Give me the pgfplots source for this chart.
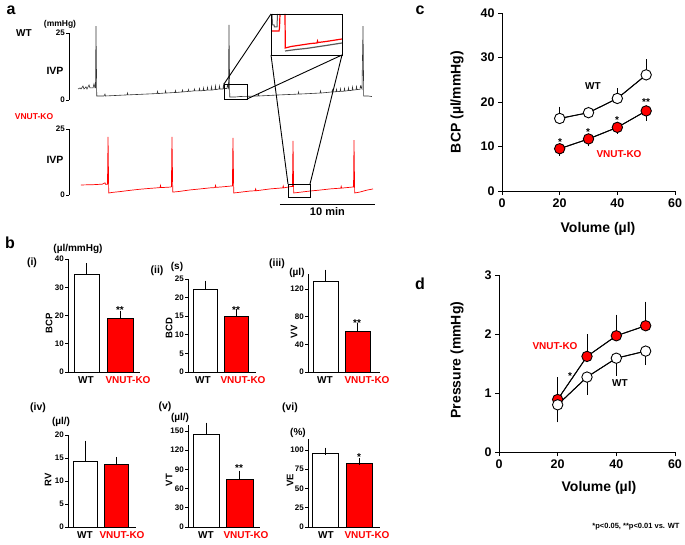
\documentclass[border=0pt]{standalone}
\usepackage{pgfplots}
\pgfplotsset{compat=1.18}
\usepackage{fontspec}
\setmainfont{Liberation Sans}
\newcommand{\myfs}[1]{\fontsize{#1}{#1}\selectfont\bfseries}
\pgfplotsset{
  base/.style={scale only axis, anchor=south west, clip=false,
    /pgf/number format/assume math mode=true,
    axis line style={line width=0.9pt}, tick style={line width=0.9pt, black},
    tick align=outside, major tick length=3pt},
  barax/.style={base, axis x line*=bottom, axis y line*=left, xmin=0, ymin=0,
    ytick pos=left, x tick style={draw=none},
    yticklabel style={font=\myfs{8}, inner sep=1pt},
    xticklabel style={font=\myfs{10}, inner sep=1pt}},
  wtbar/.style={ybar, bar shift=0pt, fill=white, draw=black, line width=0.9pt,
    error bars/y dir=plus, error bars/y explicit,
    error bars/error mark=-,
    error bars/error bar style={line width=0.9pt, black},
    error bars/error mark options={line width=0.9pt, mark size=3.5pt, black}},
  kobar/.style={wtbar, fill=red},
  errs/.style={black, line width=0.9pt, mark=none,
    error bars/y explicit, error bars/error mark=-,
    error bars/error bar style={line width=0.9pt, black},
    error bars/error mark options={line width=0.9pt, mark size=3.5pt, black}},
}
\begin{document}
\begin{tikzpicture}
\useasboundingbox (0,0) rectangle (685pt,544pt);

% ---------------- panel a ----------------
\node[font=\myfs{16}] at (11pt,534pt) {a};
\node[font=\myfs{10}] at (24pt,511pt) {WT};
\node[font=\myfs{8.5}] at (60pt,520pt) {(mmHg)};
\node[font=\myfs{10.5}] at (55pt,473pt) {IVP};
\node[font=\myfs{8.5}, text=red] at (34pt,427pt) {VNUT-KO};
\node[font=\myfs{10.5}] at (55pt,384pt) {IVP};

\begin{axis}[base, at={(69pt,444pt)}, width=308.75pt, height=67pt,
  xmin=0, xmax=32.5, ymin=0, ymax=25, axis x line=none, axis y line*=left,
  ytick={0,25}, yticklabel style={font=\myfs{8}, inner sep=1pt}]
\addplot[black!80, line width=0.6pt] table {
0.95 4.1
1.16 4.5
1.26 4.1
1.47 5.2
1.58 4.1
1.79 4.9
1.89 4.1
2.11 5.6
2.21 4.5
2.53 4.5
2.63 6.0
2.74 4.5
2.79 4.5
2.84 27.6
2.92 1.5
3.26 1.5
3.68 1.5
3.79 2.2
3.84 1.5
6.11 1.9
6.16 2.6
6.21 1.9
9.26 2.4
9.32 3.2
9.37 2.4
10.11 2.6
10.16 3.4
10.21 2.6
11.16 2.8
11.21 3.5
11.26 2.8
11.89 3.0
11.95 3.7
12.00 3.0
12.53 3.2
12.58 3.9
12.63 3.2
13.16 3.4
13.21 4.1
13.26 3.4
13.68 3.4
13.74 4.3
13.79 3.4
14.11 3.5
14.16 4.5
14.21 3.5
14.53 3.7
14.58 4.7
14.63 3.7
14.95 3.7
15.00 4.9
15.05 3.7
15.37 3.9
15.42 5.2
15.47 3.9
15.79 4.1
15.84 5.2
15.89 4.1
16.21 4.1
16.26 5.6
16.32 4.3
16.63 4.3
16.68 5.6
16.79 4.5
16.84 28.0
16.92 1.1
17.47 1.1
18.00 1.3
19.89 1.5
19.95 2.2
20.00 1.5
22.21 1.9
24.11 2.2
24.16 3.0
24.21 2.2
26.42 2.6
26.47 3.4
26.53 2.6
27.68 3.0
27.73 3.8
27.79 3.0
28.11 3.1
28.16 4.0
28.21 3.1
28.53 3.2
28.58 4.2
28.63 3.2
28.95 3.3
29.00 4.3
29.05 3.3
29.37 3.5
29.42 4.5
29.47 3.5
29.79 3.6
29.84 4.8
29.89 3.7
30.21 3.8
30.26 5.0
30.32 3.9
30.63 4.0
30.68 5.2
30.84 4.1
30.95 27.6
31.02 1.5
31.47 1.5
31.89 1.3
};
\end{axis}

\begin{axis}[base, at={(69pt,349pt)}, width=308.75pt, height=66pt,
  xmin=0, xmax=32.5, ymin=0, ymax=25, axis x line=none, axis y line*=left,
  ytick={0,25}, yticklabel style={font=\myfs{8}, inner sep=1pt}]
\addplot[red, line width=0.7pt] table {
1.26 3.8
2.5 3.9
3.5 4.1
3.79 4.6
3.84 4.1
4.05 4.1
4.11 22.0
4.18 0.76
4.6 1.0
5.4 1.3
6.5 1.8
7.5 2.2
8.5 2.5
9.58 2.8
9.63 3.6
9.68 2.8
10.63 3.0
10.78 3.1
10.84 22.0
10.92 1.1
11.5 1.3
12.7 1.9
13.8 2.3
14.84 2.7
15.37 2.8
15.42 3.6
15.47 2.9
16.2 3.1
17.05 3.4
17.2 3.4
17.26 21.6
17.34 0.76
17.9 1.0
19.05 1.5
19.6 1.6
19.65 2.3
19.7 1.6
21.16 2.3
22.5 2.7
22.55 3.4
22.6 2.7
23.37 3.2
23.52 3.2
23.58 20.5
23.65 0.76
24.2 1.0
25.37 1.5
26.5 1.9
27.47 2.3
28.6 2.6
28.65 3.3
28.7 2.6
29.79 3.0
29.95 3.0
30.0 20.8
30.07 0.76
30.6 1.1
31.3 1.8
32.0 2.3
};
\draw[line width=0.8pt] (axis cs:22.2,-3.4) -- (axis cs:32.2,-3.4);
\node[font=\myfs{11}] at (axis cs:27.2,-6.4) {10 min};
\end{axis}

% inset
\begin{axis}[scale only axis, anchor=south west, at={(271pt,489pt)}, width=71pt, height=41pt,
  xmin=0, xmax=71, ymin=0, ymax=41, hide axis]
\addplot[black!65, line width=1pt] coordinates {(1,41) (1.5,30) (3,30) (3.5,28) (6,28) (6.5,41)};
\addplot[black!65, line width=1.2pt] coordinates {(14,4) (25,5.5) (35,6.5) (45,8) (55,9.5) (71,12)};
\addplot[red, line width=1.2pt] coordinates {(0,24) (8,24) (8.5,27) (9,41)};
\addplot[red, line width=1.2pt] coordinates {(14,41) (14.3,7) (20,8.5) (30,10) (40,11.5) (46,12) (46.5,14) (47,12.5) (55,13.5) (71,16)};
\end{axis}
\draw[line width=0.9pt] (271pt,489pt) rectangle (342pt,530pt);
\draw[line width=0.9pt] (224pt,445pt) rectangle (247pt,460pt);
\draw[line width=0.9pt] (288pt,347pt) rectangle (310pt,360pt);
\draw[line width=0.9pt] (224pt,460pt) -- (271pt,530pt);
\draw[line width=0.9pt] (247pt,445pt) -- (342pt,489pt);
\draw[line width=0.9pt] (271pt,489pt) -- (288pt,360pt);
\draw[line width=0.9pt] (342pt,489pt) -- (310pt,360pt);

% ---------------- panel b ----------------
\node[font=\myfs{16}] at (10pt,301pt) {b};
% (i)
\begin{axis}[barax, at={(68pt,172pt)}, width=72pt, height=113pt, xmax=72, ymax=40,
  ytick={0,10,20,30,40}, xtick={18,60}, xticklabels={WT,\textcolor{red}{VNUT-KO}}]
\addplot[wtbar, bar width=25pt] coordinates {(18.5,34.7) +- (0,2.6)};
\addplot[kobar, bar width=26pt] coordinates {(52,18.8) +- (0,1.7)};
\end{axis}
\node[font=\myfs{10}] at (78pt,295pt) {(\textmu l/mmHg)};
\node[font=\myfs{10.5}] at (32pt,281pt) {(i)};
\node[font=\myfs{9.5}, rotate=90] at (49pt,221pt) {BCP};
\node[font=\myfs{10}, anchor=base] at (120pt,230.5pt) {**};
% (ii)
\begin{axis}[barax, at={(188pt,172pt)}, width=68pt, height=93pt, xmax=68, ymax=25,
  ytick={0,5,...,25}, xtick={15,55}, xticklabels={WT,\textcolor{red}{VNUT-KO}}]
\addplot[wtbar, bar width=24pt] coordinates {(17,22.3) +- (0,1.3)};
\addplot[kobar, bar width=24pt] coordinates {(48,14.8) +- (0,1.1)};
\end{axis}
\node[font=\myfs{10.5}] at (157pt,273pt) {(ii)};
\node[font=\myfs{10}] at (177pt,277pt) {(s)};
\node[font=\myfs{9.5}, rotate=90] at (169pt,216pt) {BCD};
\node[font=\myfs{10}, anchor=base] at (236pt,230.5pt) {**};
% (iii)
\begin{axis}[barax, at={(308pt,172pt)}, width=72pt, height=98.2pt, xmax=72, ymax=142,
  ytick={0,40,80,120}, xtick={17,59}, xticklabels={WT,\textcolor{red}{VNUT-KO}}]
\addplot[wtbar, bar width=25pt] coordinates {(17.5,131.6) +- (0,11.5)};
\addplot[kobar, bar width=25pt] coordinates {(49.5,59.3) +- (0,7.2)};
\end{axis}
\node[font=\myfs{10.5}] at (277pt,280pt) {(iii)};
\node[font=\myfs{10}] at (297pt,271pt) {(\textmu l)};
\node[font=\myfs{9.5}, rotate=90] at (294pt,212pt) {VV};
\node[font=\myfs{10}, anchor=base] at (357pt,217.5pt) {**};
% (iv)
\begin{axis}[barax, at={(68pt,17pt)}, width=68pt, height=92pt, xmax=68, ymax=20,
  ytick={0,5,...,20}, xtick={17,54}, xticklabels={WT,\textcolor{red}{VNUT-KO}}]
\addplot[wtbar, bar width=24pt] coordinates {(17,14.2) +- (0,3.8)};
\addplot[kobar, bar width=24pt] coordinates {(48,13.7) +- (0,0.8)};
\end{axis}
\node[font=\myfs{10.5}] at (38pt,136pt) {(iv)};
\node[font=\myfs{10}] at (61pt,122pt) {(\textmu l/)};
\node[font=\myfs{9.5}, rotate=90] at (48pt,64pt) {RV};
% (v)
\begin{axis}[barax, at={(188pt,17pt)}, width=72pt, height=102.4pt, xmax=72, ymax=160,
  ytick={0,30,...,150}, xtick={18,58}, xticklabels={WT,\textcolor{red}{VNUT-KO}}]
\addplot[wtbar, bar width=26pt] coordinates {(18,145.3) +- (0,12.5)};
\addplot[kobar, bar width=27pt] coordinates {(51.5,75) +- (0,7.8)};
\end{axis}
\node[font=\myfs{10.5}] at (165pt,137pt) {(v)};
\node[font=\myfs{10}] at (180pt,126pt) {(\textmu l/)};
\node[font=\myfs{9.5}, rotate=90] at (169pt,64pt) {VT};
\node[font=\myfs{10}, anchor=base] at (239pt,72.5pt) {**};
% (vi)
\begin{axis}[barax, at={(308pt,17pt)}, width=72pt, height=88.5pt, xmax=72, ymax=115,
  ytick={0,25,...,100}, xtick={18,59}, xticklabels={WT,\textcolor{red}{VNUT-KO}}]
\addplot[wtbar, bar width=26pt] coordinates {(17,96) +- (0,2.5)};
\addplot[kobar, bar width=26pt] coordinates {(51,83) +- (0,1.5)};
\end{axis}
\node[font=\myfs{10.5}] at (290pt,136pt) {(vi)};
\node[font=\myfs{10}] at (298pt,111pt) {(\%)};
\node[font=\myfs{9.5}, rotate=90] at (290pt,64pt) {VE};
\node[font=\myfs{10}, anchor=base] at (359pt,83.5pt) {*};

% ---------------- panel c ----------------
\node[font=\myfs{16}] at (420pt,534pt) {c};
\begin{axis}[base, at={(502pt,353pt)}, width=173pt, height=178pt,
  xmin=0, xmax=60, ymin=0, ymax=40, axis x line*=bottom, axis y line*=left,
  xtick={0,20,40,60}, ytick={0,10,...,40}, major tick length=4pt,
  ticklabel style={font=\myfs{12.5}}]
\addplot[errs, error bars/y dir=plus] coordinates {(20,16.3) +- (0,1.9) (30,17.6) +- (0,0.6) (40,20.8) +- (0,1.5) (50,26.1) +- (0,2.7)};
\addplot[black, line width=0.9pt, mark=*, mark size=5.2pt, mark options={fill=white, line width=0.9pt}] coordinates {(20,16.3) (30,17.6) (40,20.8) (50,26.1)};
\addplot[errs, error bars/y dir=minus] coordinates {(20,9.5) +- (0,0.8) (30,11.7) +- (0,0.9) (40,14.3) +- (0,0.6) (50,18.0) +- (0,1.4)};
\addplot[black, line width=0.9pt, mark=*, mark size=5.2pt, mark options={fill=red, line width=0.9pt}] coordinates {(20,9.5) (30,11.7) (40,14.3) (50,18.0)};
\end{axis}
\node[font=\myfs{14}, rotate=90] at (457pt,442pt) {BCP (\textmu l/mmHg)};
\node[font=\myfs{14}] at (598pt,315pt) {Volume (\textmu l)};
\node[font=\myfs{10}] at (593pt,458pt) {WT};
\node[font=\myfs{10}, text=red] at (619pt,390pt) {VNUT-KO};
\node[font=\myfs{10}, anchor=base] at (560pt,398.5pt) {*};
\node[font=\myfs{10}, anchor=base] at (588pt,408.5pt) {*};
\node[font=\myfs{10}, anchor=base] at (617pt,420.5pt) {*};
\node[font=\myfs{10}, anchor=base] at (646pt,438.5pt) {**};

% ---------------- panel d ----------------
\node[font=\myfs{16}] at (420pt,260pt) {d};
\begin{axis}[base, at={(499pt,92pt)}, width=176pt, height=177pt,
  xmin=0, xmax=60, ymin=0, ymax=3, axis x line*=bottom, axis y line*=left,
  xtick={0,20,40,60}, ytick={0,1,2,3}, major tick length=4pt,
  ticklabel style={font=\myfs{12.5}}]
\addplot[errs, error bars/y dir=plus] coordinates {(20,0.89) +- (0,0.32) (30,1.62) +- (0,0.32) (40,1.97) +- (0,0.30) (50,2.14) +- (0,0.35)};
\addplot[black, line width=0.9pt, mark=*, mark size=5.2pt, mark options={fill=red, line width=0.9pt}] coordinates {(20,0.89) (30,1.62) (40,1.97) (50,2.14)};
\addplot[errs, error bars/y dir=minus] coordinates {(20,0.80) +- (0,0.24) (30,1.27) +- (0,0.24) (40,1.59) +- (0,0.24) (50,1.71) +- (0,0.18)};
\addplot[black, line width=0.9pt, mark=*, mark size=5.2pt, mark options={fill=white, line width=0.9pt}] coordinates {(20,0.80) (30,1.27) (40,1.59) (50,1.71)};
\end{axis}
\node[font=\myfs{14}, rotate=90] at (457pt,184pt) {Pressure (mmHg)};
\node[font=\myfs{14}] at (599pt,56pt) {Volume (\textmu l)};
\node[font=\myfs{10}, text=red] at (555pt,198pt) {VNUT-KO};
\node[font=\myfs{10}] at (620pt,161pt) {WT};
\node[font=\myfs{10}, anchor=base] at (570pt,164.5pt) {*};
\node[font=\myfs{7.5}, anchor=east] at (683pt,17pt) {*p<0.05, **p<0.01 vs. WT};
\end{tikzpicture}
\end{document}
